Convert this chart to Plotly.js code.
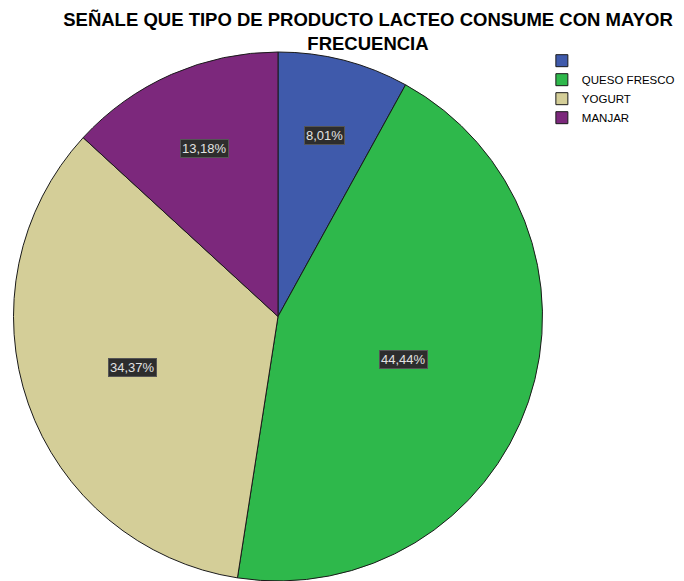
<!DOCTYPE html>
<html><head><meta charset="utf-8">
<script src="https://cdn.plot.ly/plotly-3.0.1.min.js"></script>
<style>html,body{margin:0;padding:0;background:#fff;overflow:hidden}</style>
</head><body><div id="chart" style="width:684px;height:581px"></div>
<script>
const categories = [" ", "QUESO FRESCO", "YOGURT", "MANJAR"];
const percentages = [8.01, 44.44, 34.37, 13.18];
const percentLabels = ["8,01%", "44,44%", "34,37%", "13,18%"];
const sliceColors = ["#3f5aab", "#2eb84b", "#d4ce98", "#7c287c"];

const W = 684, H = 581;
const margin = {l: 12, r: 140, t: 52, b: 0};
const pw = W - margin.l - margin.r, ph = H - margin.t - margin.b;
const R = Math.min(pw, ph) / 2;
const cx = margin.l + pw / 2, cy = margin.t + ph / 2;
const labelScale = 1.07;

const total = percentages.reduce((a, b) => a + b, 0);
let cum = 0;
const annotations = percentages.map((v, i) => {
  const f = v / total;
  const theta = f * 2 * Math.PI;
  const mid = (cum + f / 2) * 2 * Math.PI;
  cum += f;
  const d = labelScale * 4 * R * Math.sin(theta / 2) / (3 * theta);
  const px = cx + d * Math.sin(mid), py = cy - d * Math.cos(mid);
  return {
    text: percentLabels[i], xref: 'paper', yref: 'paper',
    x: (px - margin.l) / pw, y: 1 - (py - margin.t) / ph,
    xanchor: 'center', yanchor: 'middle',
    showarrow: false, font: {family: 'Liberation Sans, Arial', size: 13, color: '#e2e2e2'},
    bgcolor: '#2d2d2d', bordercolor: '#555555', borderwidth: 1, borderpad: 1
  };
});

const data = [{
  type: 'pie', labels: categories, values: percentages, sort: false,
  direction: 'clockwise', rotation: 0, textinfo: 'none', hoverinfo: 'label+percent',
  marker: {colors: sliceColors, line: {color: '#1a1a1a', width: 1}}
}];

const layout = {
  width: W, height: H, margin: margin, paper_bgcolor: '#fff',
  title: {
    text: '<b>SEÑALE QUE TIPO DE PRODUCTO LACTEO CONSUME CON MAYOR<br>FRECUENCIA</b>',
    font: {family: 'Liberation Sans, Arial', size: 18.5, color: '#000'},
    xref: 'container', x: 0.538, xanchor: 'center', yref: 'container', y: 0.955, yanchor: 'top'
  },
  showlegend: true,
  legend: {x: 0.996, y: 1.011, xanchor: 'left', yanchor: 'top', font: {family: 'Liberation Sans, Arial', size: 11.5, color: '#000'},
    bgcolor: 'rgba(0,0,0,0)', tracegroupgap: 0, itemwidth: 30},
  annotations: annotations
};
Plotly.newPlot('chart', data, layout, {displayModeBar: false, staticPlot: true});
</script></body></html>
